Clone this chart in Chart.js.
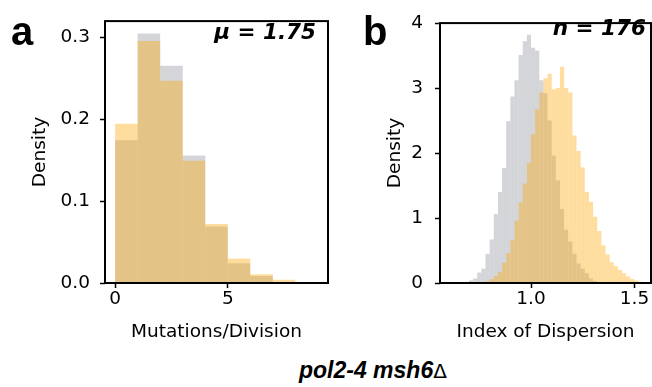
<!DOCTYPE html>
<html>
<head>
<meta charset="utf-8">
<script src="https://cdn.jsdelivr.net/npm/chart.js@4.4.0/dist/chart.umd.min.js"></script>
<style>
  html, body { margin: 0; padding: 0; background: #fff; }
  #fig { position: relative; width: 652px; height: 387px; overflow: hidden; }
  canvas { position: absolute; top: 0; }
  .lbl { position: absolute; white-space: nowrap; color: #000; line-height: 1; }
  .panel { font: bold 40px "Liberation Sans", Arial, sans-serif; }
  .note { font: italic bold 21.5px "DejaVu Sans", sans-serif; }
  .title { font: italic bold 23px "Liberation Sans", Arial, sans-serif; }
  .title span { font: normal 20px "DejaVu Sans", sans-serif; }
</style>
</head>
<body>
<div id="fig">
  <canvas id="chartA" width="335" height="350" style="left:0px"></canvas>
  <canvas id="chartB" width="317" height="350" style="left:335px"></canvas>
  <div class="lbl panel" style="left:11px; top:9px">a</div>
  <div class="lbl panel" style="left:363px; top:9px">b</div>
  <div class="lbl note" style="right:336px; top:18.5px">μ = 1.75</div>
  <div class="lbl note" style="right:6px; top:15px">n = 176</div>
  <div class="lbl title" style="left:299px; top:357px">pol2-4 msh6<span>Δ</span></div>
</div>
<script>
// #### DATA ####

// panel a : mutations per division, bins of width 1
const binsA = [0.5, 1.5, 2.5, 3.5, 4.5, 5.5, 6.5, 7.5, 8.5];
const grayA = [0.1745, 0.305, 0.2655, 0.1557, 0.069, 0.024, 0.0086, 0.001, 0];
const orangeA = [0.1945, 0.2957, 0.247, 0.1494, 0.072, 0.0298, 0.0106, 0.004, 0];
const xTicksA = [0, 5];
const yTicksA = [0, 0.1, 0.2, 0.3];

// panel b : index of dispersion, bins of width 0.02
const binsB = [0.71, 0.73, 0.75, 0.77, 0.79, 0.81, 0.83, 0.85, 0.87, 0.89,
    0.91, 0.93, 0.95, 0.97, 0.99, 1.01, 1.03, 1.05, 1.07, 1.09,
    1.11, 1.13, 1.15, 1.17, 1.19, 1.21, 1.23, 1.25, 1.27, 1.29,
    1.31, 1.33, 1.35, 1.37, 1.39, 1.41, 1.43, 1.45, 1.47, 1.49,
    1.51, 1.53, 1.55];
const grayB = [0.04, 0.07, 0.16, 0.22, 0.45, 0.67, 1.06, 1.40, 1.77, 2.49,
    2.87, 3.12, 3.51, 3.72, 3.82, 3.62, 3.58, 3.12, 2.92, 2.50,
    1.96, 1.58, 1.14, 0.82, 0.64, 0.45, 0.30, 0.22, 0.15, 0.07,
    0.03, 0.01, 0, 0, 0, 0, 0, 0, 0, 0,
    0, 0, 0];
const orangeB = [0, 0, 0, 0.01, 0.03, 0.06, 0.11, 0.17, 0.31, 0.46,
    0.66, 0.96, 1.24, 1.53, 1.85, 2.29, 2.67, 2.93, 3.15, 3.22,
    2.98, 3.00, 3.33, 3.00, 2.93, 2.27, 2.03, 1.78, 1.40, 1.25,
    1.02, 0.80, 0.58, 0.44, 0.32, 0.26, 0.20, 0.15, 0.10, 0.06,
    0.04, 0.02, 0.01];
const xTicksB = [1.0, 1.5];
const yTicksB = [0, 1, 2, 3, 4];

const GRAY = 'rgba(157, 162, 168, 0.45)';
const ORANGE = 'rgba(255, 165, 0, 0.38)';
const tickFont = {family: 'DejaVu Sans', size: 18.5};

// box around the plot area, like the matplotlib spines
const frame = {
    id: 'frame',
    afterDraw(chart) {
        const {ctx, chartArea: a} = chart;
        ctx.save();
        ctx.strokeStyle = '#000';
        ctx.lineWidth = 2;
        ctx.strokeRect(a.left, a.top, a.right - a.left, a.bottom - a.top);
        ctx.restore();
    }
};

let histChart = (id, cfg) => {
    let toPoints = (vals) => cfg.bins.map((b, i) => ({x: b, y: vals[i]}));
    // no inflate: overlapping translucent edges show up as dark seams
    let bar = {grouped: false, barPercentage: 1, categoryPercentage: 1, borderWidth: 0, inflateAmount: 0};
    return new Chart(document.getElementById(id), {
        type: 'bar',
        data: {
            datasets: [
                {data: toPoints(cfg.orange), backgroundColor: ORANGE, order: 1, ...bar},
                {data: toPoints(cfg.gray), backgroundColor: GRAY, order: 2, ...bar}
            ]
        },
        options: {
            responsive: false,
            animation: false,
            devicePixelRatio: 1,
            layout: {padding: {left: 0, top: cfg.top, right: cfg.right, bottom: 0}},
            plugins: {legend: {display: false}, tooltip: {enabled: false}},
            scales: {
                x: {
                    type: 'linear', min: cfg.xMin, max: cfg.xMax, offset: false,
                    afterBuildTicks: (s) => { s.ticks = cfg.xTicks.map(v => ({value: v})); },
                    afterFit: (s) => { s.height = 67; },
                    ticks: {autoSkip: false, maxRotation: 0, padding: 0, color: '#000', font: tickFont,
                        callback: cfg.xFmt},
                    grid: {offset: false, drawOnChartArea: false, tickLength: 5, tickWidth: 1.5, tickColor: '#000'},
                    border: {display: false},
                    title: {display: true, text: cfg.xTitle, color: '#000', font: tickFont,
                        padding: {top: 0, bottom: 7}}
                },
                y: {
                    min: 0, max: cfg.yMax,
                    afterBuildTicks: (s) => { s.ticks = cfg.yTicks.map(v => ({value: v})); },
                    afterFit: (s) => { s.width = 105; },
                    ticks: {padding: cfg.yPad, color: '#000', font: tickFont, callback: cfg.yFmt},
                    grid: {drawOnChartArea: false, tickLength: 5, tickWidth: 1.5, tickColor: '#000'},
                    border: {display: false},
                    title: {display: true, text: 'Density', color: '#000', font: tickFont,
                        padding: {top: cfg.yTitlePad, bottom: 0}}
                }
            }
        },
        plugins: [frame]
    });
}

// #### PANEL A ####
let chartA = histChart('chartA', {
    bins: binsA, gray: grayA, orange: orangeA,
    xMin: -0.45, xMax: 9.45, xTicks: xTicksA, xFmt: (v) => String(v),
    yMax: 0.32, yTicks: yTicksA, yFmt: (v) => v.toFixed(1),
    xTitle: 'Mutations/Division', top: 10, right: 7, yPad: 10, yTitlePad: 29.4
});

// #### PANEL B ####
let chartB = histChart('chartB', {
    bins: binsB, gray: grayB, orange: orangeB,
    xMin: 0.56, xMax: 1.58, xTicks: xTicksB, xFmt: (v) => v.toFixed(1),
    yMax: 4, yTicks: yTicksB, yFmt: (v) => String(v),
    xTitle: 'Index of Dispersion', top: 14, right: 1, yPad: 12, yTitlePad: 48.9
});
</script>
</body>
</html>
